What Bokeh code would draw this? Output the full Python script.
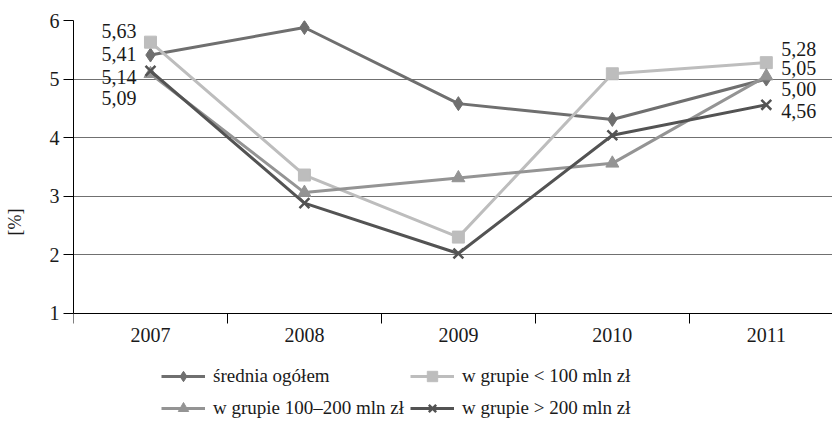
from bokeh.plotting import figure
from bokeh.models import FixedTicker, Legend, LegendItem, ColumnDataSource
from bokeh.core.properties import value
from bokeh.embed import file_html
from bokeh.resources import INLINE

# Lata i wartości wskaźnika [%]
years = ["2007", "2008", "2009", "2010", "2011"]
srednia = [5.41, 5.88, 4.58, 4.31, 5.00]
grupa_ponizej_100 = [5.63, 3.36, 2.30, 5.09, 5.28]
grupa_100_200 = [5.09, 3.06, 3.31, 3.56, 5.05]
grupa_powyzej_200 = [5.14, 2.88, 2.02, 4.04, 4.56]

series_names = ["średnia ogółem", "w grupie < 100 mln zł",
                "w grupie 100–200 mln zł", "w grupie > 200 mln zł"]
y_ticks = [1, 2, 3, 4, 5, 6]

FONT = "Liberation Serif"
TXT = "#1a1a1a"

xs = list(range(1, len(years) + 1))

# obszar wykresu obejmuje też miejsce na legendę pod osią X
FRAME_H = 403
UNIT_PX = 58.54
y_bottom = y_ticks[-1] - FRAME_H / UNIT_PX

p = figure(frame_width=759, frame_height=FRAME_H, output_backend="svg",
           toolbar_location=None,
           x_range=(0.5, 5.43), y_range=(y_bottom, y_ticks[-1]),
           min_border_left=73, min_border_right=0, min_border_top=20,
           min_border_bottom=0)
p.outline_line_color = None
p.background_fill_color = "white"
p.border_fill_color = "white"

# osie
p.xaxis.fixed_location = y_ticks[0]
p.xaxis.ticker = FixedTicker(ticks=xs, minor_ticks=[x - 0.5 for x in xs] + [xs[-1] + 0.5])
p.xaxis.major_label_overrides = {x: y for x, y in zip(xs, years)}
p.xaxis.major_tick_out = 0
p.xaxis.major_tick_in = 0
p.xaxis.minor_tick_out = 10
p.xaxis.minor_tick_in = 0
p.xaxis.minor_tick_line_color = "black"
p.xaxis.major_label_standoff = 5
p.xaxis.axis_line_color = "black"

p.yaxis.ticker = FixedTicker(ticks=y_ticks)
p.yaxis.bounds = (y_ticks[0], y_ticks[-1])
p.yaxis.major_tick_out = 10
p.yaxis.major_tick_in = 0
p.yaxis.minor_tick_line_color = None
p.yaxis.major_label_standoff = 4
p.yaxis.axis_line_color = "black"
p.yaxis.axis_label = "[%]"
p.yaxis.axis_label_standoff = 22

for ax in (p.xaxis, p.yaxis):
    ax.major_label_text_font = FONT
    ax.major_label_text_font_size = "20px"
    ax.major_label_text_color = TXT
    ax.axis_label_text_font = FONT
    ax.axis_label_text_font_size = "18px"
    ax.axis_label_text_font_style = "normal"
    ax.axis_label_text_color = TXT
    ax.major_tick_line_color = "black"

p.xgrid.grid_line_color = None
p.ygrid.grid_line_color = "#707070"
p.ygrid.grid_line_width = 1.2

# serie
styles = [
    dict(data=srednia, color="#6f6f6f", marker="diamond", size=14, lw=3),
    dict(data=grupa_ponizej_100, color="#bdbdbd", marker="square", size=12, lw=3),
    dict(data=grupa_100_200, color="#949494", marker="triangle", size=13, lw=3),
    dict(data=grupa_powyzej_200, color="#535353", marker="x", size=14, lw=3),
]

items = []
for name, st in zip(series_names, styles):
    src = ColumnDataSource(dict(x=xs, y=st["data"]))
    ln = p.line("x", "y", source=src, line_color=st["color"], line_width=st["lw"])
    if st["marker"] == "x":
        mk = p.scatter("x", "y", source=src, marker="x", size=st["size"],
                       line_color=st["color"], line_width=2.5)
    else:
        mk = p.scatter("x", "y", source=src, marker=st["marker"], size=st["size"],
                       fill_color=st["color"], line_color=st["color"])
    items.append(LegendItem(label=name, renderers=[ln, mk]))

# etykiety wartości dla 2007 i 2011
def fmt(v):
    return f"{v:.2f}".replace(".", ",")

first = [s["data"][0] for s in styles]
last = [s["data"][-1] for s in styles]
# przesunięcia pionowe [px] rozsuwające etykiety
left_dy = {0: -1.5, 1: -10.7, 2: 24.7, 3: 5.7}
right_dy = {0: 9.8, 1: -13.8, 2: -7.9, 3: 6.7}

lsrc = ColumnDataSource(dict(x=[xs[0]] * 4, y=first, t=[fmt(v) for v in first],
                             dy=[left_dy[i] for i in range(4)]))
p.text("x", "y", text="t", source=lsrc, x_offset=-14, y_offset="dy",
       text_align="right", text_baseline="middle",
       text_font=value(FONT), text_font_size="20px", text_color=TXT)
rsrc = ColumnDataSource(dict(x=[xs[-1]] * 4, y=last, t=[fmt(v) for v in last],
                             dy=[right_dy[i] for i in range(4)]))
p.text("x", "y", text="t", source=rsrc, x_offset=15, y_offset="dy",
       text_align="left", text_baseline="middle",
       text_font=value(FONT), text_font_size="20px", text_color=TXT)

legend = Legend(items=items, ncols=2, orientation="horizontal",
                location=(88, 2), glyph_width=44, glyph_height=26,
                label_standoff=8, label_width=189, spacing=6, padding=0, margin=0,
                label_text_font=FONT, label_text_font_size="19px",
                label_text_color=TXT, border_line_color=None,
                background_fill_alpha=0)
p.add_layout(legend, "center")

open("out.html", "w").write(file_html(p, INLINE))
